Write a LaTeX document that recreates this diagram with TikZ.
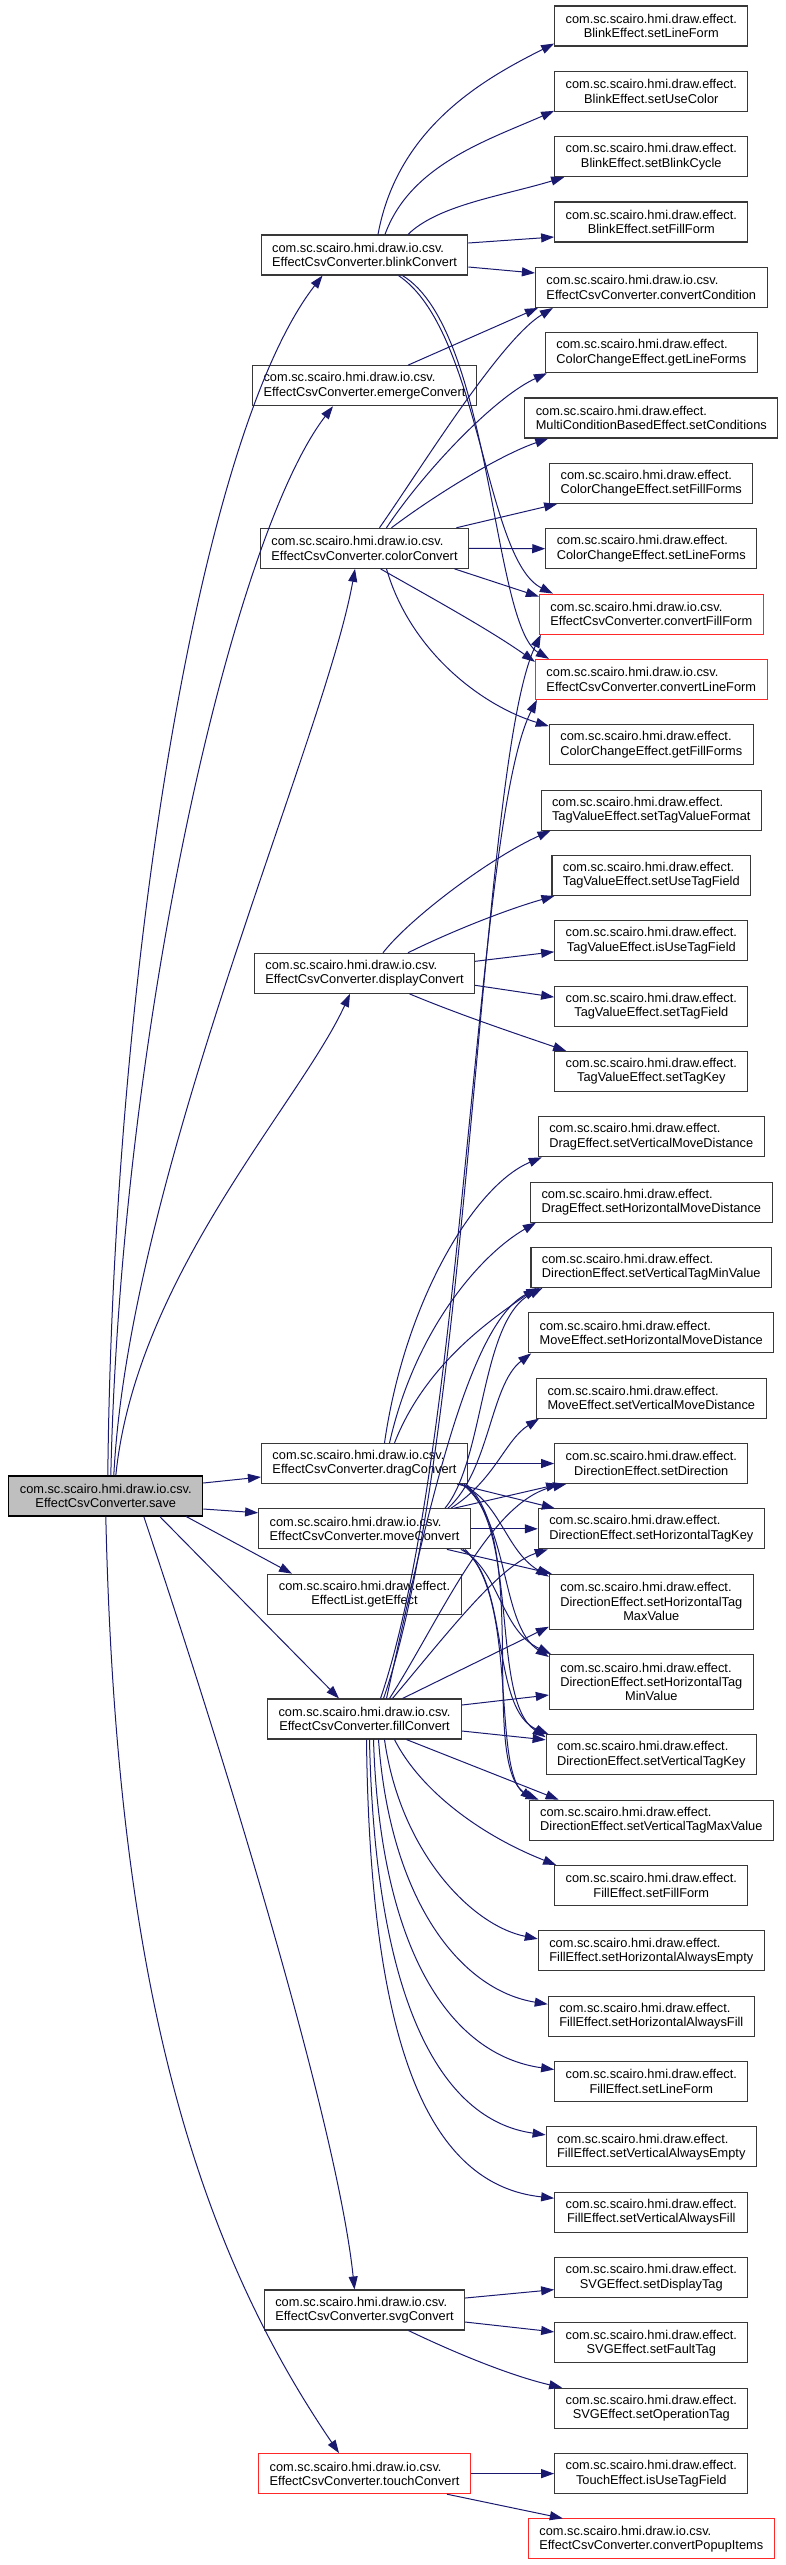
\documentclass[tikz,border=0pt]{standalone}
\usepackage{fontspec}
\usetikzlibrary{arrows.meta,calc}
\newfontfamily\lblfont{Liberation Sans}
\definecolor{edgeblue}{RGB}{25,25,112}
\definecolor{boxgray}{RGB}{56,56,56}
\definecolor{boxred}{RGB}{255,40,40}
\definecolor{rootfill}{RGB}{191,191,191}
\newlength\wa \newlength\wb
\newcommand\lbl{\lblfont\fontsize{12.8}{14.3}\selectfont}
\newcommand\dl[2]{\settowidth\wa{#1}\settowidth\wb{#2}\ifdim\wb>\wa\setlength\wa\wb\fi\makebox[\wa][l]{#1}\\#2}
\newcommand\threel[3]{\settowidth\wa{#1}\settowidth\wb{#2}\ifdim\wb>\wa\setlength\wa\wb\fi\global\wa=\wa\makebox[\wa][l]{#1}\\\makebox[\wa][l]{#2}\\#3}
\newcommand\pio[1]{\dl{com.sc.scairo.hmi.draw.io.csv.}{#1}}
\newcommand\pef[1]{\dl{com.sc.scairo.hmi.draw.effect.}{#1}}
\begin{document}
\begin{tikzpicture}[x=1pt,y=-1pt,
  box/.style={draw=boxgray, fill=white, line width=1.1pt, inner xsep=11pt, inner ysep=0pt, minimum height=40pt, font=\lbl, align=center},
  redbox/.style={box, draw=boxred},
  rootbox/.style={box, draw=black, fill=rootfill},
  tallbox/.style={box, minimum height=55pt},
  e/.style={draw=edgeblue, line width=1pt, -{Triangle[length=13pt,width=9pt]}}]
\useasboundingbox (0,0) rectangle (785,2565);
% left column
\node[rootbox] (save) at (105.8,1496) {\pio{EffectCsvConverter.save}};
\node[box] (blink) at (364.5,255) {\pio{EffectCsvConverter.blinkConvert}};
\node[box] (emerge) at (364.5,385.7) {\pio{EffectCsvConverter.emergeConvert}};
\node[box] (color) at (364.5,548.3) {\pio{EffectCsvConverter.colorConvert}};
\node[box] (display) at (364.5,973.3) {\pio{EffectCsvConverter.displayConvert}};
\node[box] (drag) at (364.5,1463.5) {\pio{EffectCsvConverter.dragConvert}};
\node[box] (move) at (364.5,1528.8) {\pio{EffectCsvConverter.moveConvert}};
\node[box] (geteff) at (364.5,1594.2) {\pef{EffectList.getEffect}};
\node[box] (fill) at (364.5,1719) {\pio{EffectCsvConverter.fillConvert}};
\node[box] (svg) at (364.5,2310) {\pio{EffectCsvConverter.svgConvert}};
\node[redbox] (touch) at (364.5,2473.6) {\pio{EffectCsvConverter.touchConvert}};
% right column
\node[box] (r0) at (651.3,26) {\pef{BlinkEffect.setLineForm}};
\node[box] (r1) at (651.3,91.3) {\pef{BlinkEffect.setUseColor}};
\node[box] (r2) at (651.3,156.7) {\pef{BlinkEffect.setBlinkCycle}};
\node[box] (r3) at (651.3,222) {\pef{BlinkEffect.setFillForm}};
\node[box] (r4) at (651.3,287.4) {\pio{EffectCsvConverter.convertCondition}};
\node[box] (r5) at (651.3,352.7) {\pef{ColorChangeEffect.getLineForms}};
\node[box] (r6) at (651.3,418) {\pef{MultiConditionBasedEffect.setConditions}};
\node[box] (r7) at (651.3,483.4) {\pef{ColorChangeEffect.setFillForms}};
\node[box] (r8) at (651.3,548.7) {\pef{ColorChangeEffect.setLineForms}};
\node[redbox] (r9) at (651.3,614.1) {\pio{EffectCsvConverter.convertFillForm}};
\node[redbox] (r10) at (651.3,679.4) {\pio{EffectCsvConverter.convertLineForm}};
\node[box] (r11) at (651.3,744.7) {\pef{ColorChangeEffect.getFillForms}};
\node[box] (r12) at (651.3,810.1) {\pef{TagValueEffect.setTagValueFormat}};
\node[box] (r13) at (651.3,875.4) {\pef{TagValueEffect.setUseTagField}};
\node[box] (r14) at (651.3,940.8) {\pef{TagValueEffect.isUseTagField}};
\node[box] (r15) at (651.3,1006.1) {\pef{TagValueEffect.setTagField}};
\node[box] (r16) at (651.3,1071.4) {\pef{TagValueEffect.setTagKey}};
\node[box] (r17) at (651.3,1136.8) {\pef{DragEffect.setVerticalMoveDistance}};
\node[box] (r18) at (651.3,1202.1) {\pef{DragEffect.setHorizontalMoveDistance}};
\node[box] (r19) at (651.3,1267.5) {\pef{DirectionEffect.setVerticalTagMinValue}};
\node[box] (r20) at (651.3,1332.8) {\pef{MoveEffect.setHorizontalMoveDistance}};
\node[box] (r21) at (651.3,1398.1) {\pef{MoveEffect.setVerticalMoveDistance}};
\node[box] (r22) at (651.3,1463.5) {\pef{DirectionEffect.setDirection}};
\node[box] (r23) at (651.3,1528.8) {\pef{DirectionEffect.setHorizontalTagKey}};
\node[tallbox] (r24) at (651.3,1601.7) {\threel{com.sc.scairo.hmi.draw.effect.}{DirectionEffect.setHorizontalTag}{MaxValue}};
\node[tallbox] (r25) at (651.3,1682) {\threel{com.sc.scairo.hmi.draw.effect.}{DirectionEffect.setHorizontalTag}{MinValue}};
\node[box] (r26) at (651.3,1754.8) {\pef{DirectionEffect.setVerticalTagKey}};
\node[box] (r27) at (651.3,1820.2) {\pef{DirectionEffect.setVerticalTagMaxValue}};
\node[box] (r28) at (651.3,1885.5) {\pef{FillEffect.setFillForm}};
\node[box] (r29) at (651.3,1950.9) {\pef{FillEffect.setHorizontalAlwaysEmpty}};
\node[box] (r30) at (651.3,2016.2) {\pef{FillEffect.setHorizontalAlwaysFill}};
\node[box] (r31) at (651.3,2081.5) {\pef{FillEffect.setLineForm}};
\node[box] (r32) at (651.3,2146.9) {\pef{FillEffect.setVerticalAlwaysEmpty}};
\node[box] (r33) at (651.3,2212.2) {\pef{FillEffect.setVerticalAlwaysFill}};
\node[box] (r34) at (651.3,2277.6) {\pef{SVGEffect.setDisplayTag}};
\node[box] (r35) at (651.3,2342.9) {\pef{SVGEffect.setFaultTag}};
\node[box] (r36) at (651.3,2408.2) {\pef{SVGEffect.setOperationTag}};
\node[box] (r37) at (651.3,2473.6) {\pef{TouchEffect.isUseTagField}};
\node[redbox] (r38) at (651.3,2538.9) {\pio{EffectCsvConverter.convertPopupItems}};
% edges from save
\draw[e] ([xshift=2pt]save.north) .. controls (113,976) and (198,436) .. ([xshift=-42pt]blink.south);
\draw[e] ([xshift=5pt]save.north) .. controls (121,1026) and (233,536) .. ([xshift=-31.5pt]emerge.south);
\draw[e] ([xshift=8pt]save.north) .. controls (129,1176) and (325,738) .. ([xshift=-9.5pt]color.south);
\draw[e] ([xshift=10pt]save.north) .. controls (136,1276) and (300,1103) .. ([xshift=-14.5pt]display.south);
\draw[e] ([yshift=13pt]save.east) -- ([yshift=-13.5pt]drag.west);
\draw[e] ([yshift=-13pt]save.east) -- ([yshift=16pt]move.west);
\draw[e] ([xshift=-17pt]save.south east) -- ([xshift=-72.5pt]geteff.north);
\draw[e] ([xshift=54pt]save.south) -- ([xshift=-25.5pt]fill.north);
\draw[e] ([xshift=38pt]save.south) .. controls (244,1816) and (339,2140) .. ([xshift=-10pt]svg.north);
\draw[e] (save.south) .. controls (116,1966) and (189,2233) .. ([xshift=-25.5pt]touch.north);
% blink
\draw[e] ([xshift=13.5pt]blink.north) .. controls (398,125) and (488,77) .. ([yshift=3pt]r0.south west);
\draw[e] ([xshift=20.5pt]blink.north) .. controls (410,165) and (488,140) .. ([yshift=1pt]r1.south west);
\draw[e] ([xshift=43.5pt]blink.north) .. controls (438,205) and (502,196) .. ([xshift=10pt]r2.south west);
\draw[e] ([yshift=12pt]blink.east) -- ([yshift=-15pt]r3.west);
\draw[e] ([yshift=-12pt]blink.east) -- ([yshift=14.4pt]r4.west);
\draw[e] ([xshift=34pt]blink.south) .. controls (480,330) and (485,560) .. ([xshift=14pt]r9.north west);
\draw[e] ([xshift=38pt]blink.south) .. controls (492,330) and (492,625) .. ([xshift=14pt]r10.north west);
% emerge
\draw[e] ([xshift=43.5pt]emerge.north) -- ([xshift=3pt]r4.south west);
% color
\draw[e] ([xshift=15pt]color.north) .. controls (420,470) and (500,340) .. ([xshift=18pt]r4.south west);
\draw[e] ([xshift=22pt]color.north) .. controls (425,470) and (495,397) .. ([xshift=2pt]r5.south west);
\draw[e] ([xshift=27pt]color.north) .. controls (435,495) and (500,455) .. ([xshift=24pt]r6.south west);
\draw[e] ([xshift=-12.7pt]color.north east) -- ([xshift=8pt]r7.south west);
\draw[e] (color.east) -- (r8.west);
\draw[e] ([xshift=-14.7pt]color.south east) -- ([yshift=-3pt]r9.north west);
\draw[e] ([xshift=16pt]color.south) .. controls (430,597) and (490,630) .. ([yshift=-3pt]r10.north west);
\draw[e] ([xshift=22pt]color.south) .. controls (410,650) and (480,705) .. ([yshift=-2pt]r11.north west);
% display
\draw[e] ([xshift=18.5pt]display.north) .. controls (410,918) and (490,858) .. ([xshift=10pt]r12.south west);
\draw[e] ([xshift=43.5pt]display.north) .. controls (450,932) and (505,910) .. ([xshift=3pt]r13.south west);
\draw[e] ([yshift=12pt]display.east) -- ([yshift=-11pt]r14.west);
\draw[e] ([yshift=-12pt]display.east) -- ([yshift=9pt]r15.west);
\draw[e] ([xshift=45pt]display.south) .. controls (460,1015) and (520,1035) .. ([xshift=12pt]r16.north west);
% drag
\draw[e] (drag.east) -- (r22.west);
\draw[e] ([xshift=20pt]drag.north) .. controls (405,1300) and (475,1185) .. ([xshift=4pt]r17.south west);
\draw[e] ([xshift=25pt]drag.north) .. controls (415,1330) and (480,1255) .. ([xshift=6pt]r18.south west);
\draw[e] ([xshift=30pt]drag.north) .. controls (425,1365) and (490,1320) .. ([xshift=6pt]r19.south west);
\draw[e] ([xshift=-11pt]drag.south east) -- ([xshift=17pt]r23.north west);
\draw[e] ([xshift=-8pt]drag.south east) .. controls (500,1500) and (505,1550) .. ([yshift=-3pt]r24.north west);
\draw[e] ([xshift=-6pt]drag.south east) .. controls (510,1520) and (500,1625) .. ([yshift=-3pt]r25.north west);
\draw[e] ([xshift=-4pt]drag.south east) .. controls (520,1530) and (490,1700) .. ([yshift=-3pt]r26.north west);
\draw[e] ([xshift=-2pt]drag.south east) .. controls (530,1540) and (480,1760) .. ([xshift=5pt]r27.north west);
% move
\draw[e] (move.east) -- (r23.west);
\draw[e] ([xshift=-17pt]move.north east) -- ([xshift=5pt]r22.south west);
\draw[e] ([xshift=-23pt]move.north east) .. controls (490,1470) and (490,1385) .. ([xshift=3pt]r20.south west);
\draw[e] ([xshift=-20pt]move.north east) .. controls (495,1480) and (505,1440) .. ([xshift=3pt]r21.south west);
\draw[e] ([xshift=-26pt]move.north east) .. controls (485,1460) and (480,1320) .. ([xshift=12pt]r19.south west);
\draw[e] ([xshift=-24pt]move.south east) -- ([xshift=3pt]r24.north west);
\draw[e] ([xshift=-10pt]move.south east) .. controls (500,1570) and (500,1630) .. ([xshift=2pt]r25.north west);
\draw[e] ([xshift=-8pt]move.south east) .. controls (510,1580) and (490,1710) .. ([xshift=3pt]r26.north west);
\draw[e] ([xshift=-6pt]move.south east) .. controls (520,1600) and (490,1780) .. ([xshift=10pt]r27.north west);
% fill
\draw[e] ([xshift=25pt]fill.north) .. controls (440,1620) and (490,1500) .. ([xshift=12pt]r22.south west);
\draw[e] ([xshift=28pt]fill.north) .. controls (450,1630) and (500,1565) .. ([xshift=10pt]r23.south west);
\draw[e] ([xshift=38pt]fill.north) -- ([yshift=3pt]r24.south west);
\draw[e] ([yshift=14pt]fill.east) -- ([yshift=-13pt]r25.west);
\draw[e] ([yshift=-12pt]fill.east) -- ([yshift=15pt]r26.west);
\draw[e] ([xshift=42pt]fill.south) -- ([xshift=30pt]r27.north west);
\draw[e] ([xshift=22pt]fill.north) .. controls (430,1500) and (470,1320) .. ([xshift=9pt]r19.south west);
\draw[e] ([xshift=19pt]fill.north) .. controls (470,1450) and (480,760) .. ([xshift=2pt]r9.south west);
\draw[e] ([xshift=16pt]fill.north) .. controls (465,1450) and (475,820) .. ([xshift=2pt]r10.south west);
\draw[e] ([xshift=30pt]fill.south) .. controls (420,1790) and (480,1835) .. ([xshift=2pt]r28.north west);
\draw[e] ([xshift=20pt]fill.south) .. controls (400,1850) and (470,1925) .. ([yshift=12pt]r29.west);
\draw[e] ([xshift=14pt]fill.south) .. controls (390,1900) and (460,1990) .. ([yshift=12pt]r30.west);
\draw[e] ([xshift=9pt]fill.south) .. controls (380,1950) and (450,2055) .. ([yshift=12pt]r31.west);
\draw[e] ([xshift=5pt]fill.south) .. controls (375,2000) and (440,2120) .. ([yshift=12pt]r32.west);
\draw[e] ([xshift=2pt]fill.south) .. controls (370,2050) and (430,2185) .. ([yshift=14pt]r33.west);
% svg
\draw[e] ([yshift=12pt]svg.east) -- ([yshift=-12pt]r34.west);
\draw[e] ([yshift=-12pt]svg.east) -- ([yshift=11pt]r35.west);
\draw[e] ([xshift=44pt]svg.south) .. controls (470,2360) and (520,2378) .. ([xshift=8pt]r36.north west);
% touch
\draw[e] (touch.east) -- (r37.west);
\draw[e] ([xshift=-24pt]touch.south east) -- ([xshift=35pt]r38.north west);
\end{tikzpicture}
\end{document}
